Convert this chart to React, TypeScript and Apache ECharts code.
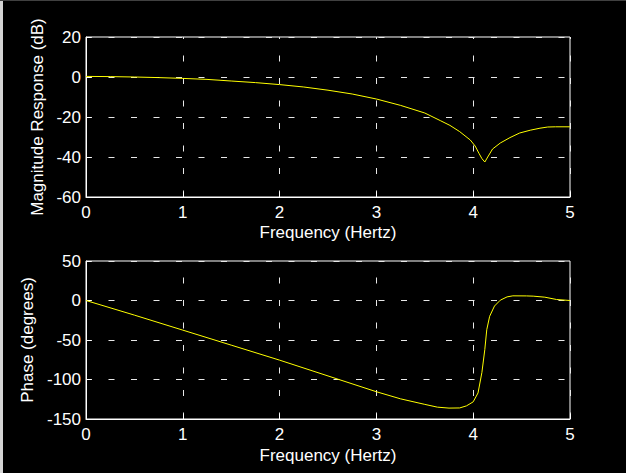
import React, { useEffect, useRef } from "react";
import * as echarts from "echarts";

const magFreq = [0, 0.25, 0.5, 0.75, 1.0, 1.25, 1.5, 1.75, 2.0, 2.25, 2.5, 2.75, 3.0, 3.25, 3.5, 3.66, 3.76, 3.86, 3.97, 4.02, 4.06, 4.09, 4.12, 4.15, 4.2, 4.28, 4.38, 4.48, 4.59, 4.69, 4.77, 4.85, 5.0];
const magDb = [0.3, 0.2, 0.0, -0.3, -0.7, -1.2, -2.0, -2.8, -3.8, -5.0, -6.6, -8.5, -11.0, -14.2, -18.0, -21.8, -24.2, -27.3, -31.5, -34.5, -38.2, -40.8, -42.5, -40.0, -36.0, -33.0, -30.3, -28.0, -26.6, -25.6, -25.0, -24.9, -24.9];

const phaseFreq = [0, 0.5, 1.0, 1.5, 2.0, 2.5, 3.0, 3.25, 3.5, 3.63, 3.75, 3.86, 3.93, 4.0, 4.05, 4.09, 4.12, 4.14, 4.17, 4.22, 4.28, 4.35, 4.41, 4.55, 4.62, 4.74, 4.86, 5.0];
const phaseDeg = [0, -18.5, -37.5, -56.5, -75.5, -95.5, -115.5, -124.5, -131.5, -135, -136.2, -136, -133.4, -128.3, -117, -91, -62, -37, -20, -7, 0.4, 4.6, 5.9, 5.8, 5.5, 4.2, 1.3, 0];

const xName = "Frequency (Hertz)";
const magName = "Magnitude Response (dB)";
const phaseName = "Phase (degrees)";

const FONT = "'Liberation Sans', Arial, sans-serif";
const FS = 17;

export default function App() {
  const ref = useRef<HTMLDivElement>(null);
  useEffect(() => {
    if (!ref.current) return;
    const chart = echarts.init(ref.current, null, { renderer: "svg" });
    const text = { color: "#ffffff", fontFamily: FONT, fontSize: FS };
    const xAxisBase = (gridIndex: number, dashOffset: number, nameGap: number) => ({
      type: "value" as const,
      gridIndex,
      min: 0,
      max: 5,
      interval: 1,
      name: xName,
      nameLocation: "middle" as const,
      nameGap,
      nameTextStyle: { ...text },
      axisLine: { show: true, onZero: false, lineStyle: { color: "#ffffff", width: 1 } },
      axisTick: { show: true, inside: true, length: 5, lineStyle: { color: "#ffffff" } },
      axisLabel: { ...text, margin: 7 },
      splitLine: {
        show: true,
        lineStyle: { color: "#e8e8e8", width: 1, type: [6, 16.5], dashOffset },
      },
    });
    const yAxisBase = (gridIndex: number, min: number, max: number, interval: number, name: string, nameGap: number) => ({
      type: "value" as const,
      gridIndex,
      min,
      max,
      interval,
      name,
      nameLocation: "middle" as const,
      nameGap,
      nameTextStyle: { ...text },
      axisLine: { show: true, onZero: false, lineStyle: { color: "#ffffff", width: 1 } },
      axisTick: { show: true, inside: true, length: 5, lineStyle: { color: "#ffffff" } },
      axisLabel: { ...text, margin: 5 },
      splitLine: {
        show: true,
        lineStyle: { color: "#e8e8e8", width: 1, type: [6, 16.5] },
      },
    });
    chart.setOption({
      animation: false,
      backgroundColor: "#000000",
      textStyle: { fontFamily: FONT },
      grid: [
        { left: 86, top: 37, width: 484, height: 160, show: true, borderColor: "#ffffff", borderWidth: 1, backgroundColor: "#000000" },
        { left: 86, top: 261, width: 484, height: 158, show: true, borderColor: "#ffffff", borderWidth: 1, backgroundColor: "#000000" },
      ],
      xAxis: [xAxisBase(0, 3.5, 27), xAxisBase(1, 5.5, 28)],
      yAxis: [
        yAxisBase(0, -60, 20, 20, magName, 35),
        yAxisBase(1, -150, 50, 50, phaseName, 43.5),
      ],
      graphic: [
        { type: "rect", left: 0, top: 0, shape: { width: 3, height: 473 }, style: { fill: "#d4d4d4" }, silent: true },
        { type: "rect", left: 0, top: 0, shape: { width: 626, height: 1 }, style: { fill: "#404040" }, silent: true },
      ],
      series: [
        {
          type: "line",
          xAxisIndex: 0,
          yAxisIndex: 0,
          data: magFreq.map((f, i) => [f, magDb[i]]),
          showSymbol: false,
          smooth: false,
          lineStyle: { color: "#ffff00", width: 1 },
        },
        {
          type: "line",
          xAxisIndex: 1,
          yAxisIndex: 1,
          data: phaseFreq.map((f, i) => [f, phaseDeg[i]]),
          showSymbol: false,
          smooth: false,
          lineStyle: { color: "#ffff00", width: 1 },
        },
      ],
    });
    return () => chart.dispose();
  }, []);
  return (
    <div
      ref={ref}
      style={{ position: "fixed", left: 0, top: 0, width: 626, height: 473, background: "#000" }}
    />
  );
}
